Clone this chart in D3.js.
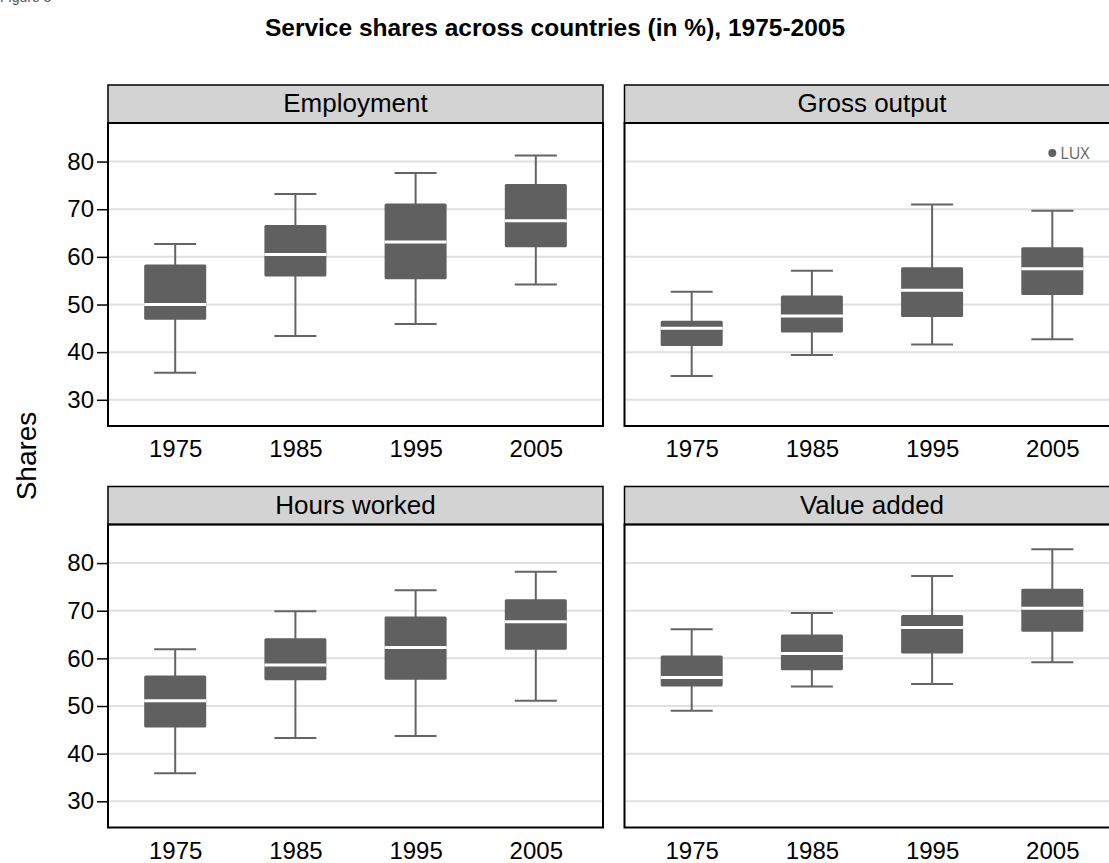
<!DOCTYPE html>
<html><head><meta charset="utf-8">
<script src="https://cdn.jsdelivr.net/npm/d3@7"></script>
<style>body{margin:0;background:#fff;}svg{display:block;font-family:"Liberation Sans",Arial,sans-serif;}</style>
</head><body>
<script>
const years = ["1975","1985","1995","2005"];
const panels = ["Employment","Gross output","Hours worked","Value added"];
const yTicks = [30,40,50,60,70,80];
// [lower whisker, Q1, median, Q3, upper whisker] per year
const employment  = [[35.7,46.8,50.0,58.4,62.7],[43.4,55.9,60.5,66.7,73.2],[45.9,55.3,63.1,71.2,77.6],[54.2,62.0,67.6,75.3,81.3]];
const grossOutput = [[35.0,41.3,45.0,46.6,52.7],[39.4,44.1,47.6,51.9,57.1],[41.6,47.4,53.0,57.8,71.0],[42.7,52.0,57.5,62.0,69.7]];
const hoursWorked = [[35.9,45.5,51.1,56.4,61.9],[43.3,55.4,58.6,64.2,69.9],[43.7,55.5,62.3,68.8,74.3],[51.1,61.8,67.7,72.4,78.2]];
const valueAdded  = [[49.0,54.1,56.0,60.6,66.1],[54.1,57.5,61.0,65.0,69.5],[54.6,61.0,66.5,69.1,77.3],[59.2,65.6,70.5,74.6,82.9]];
const seriesData = [employment, grossOutput, hoursWorked, valueAdded];
// outliers: [panel index, year index, value, label]
const outliers = [[1, 3, 81.8, "LUX"]];

const W = 1109, H = 863;
const svg = d3.select("body").append("svg").attr("width", W).attr("height", H);

svg.append("text").attr("x", 0).attr("y", 1.5).attr("font-size", 14).attr("fill", "#555").text("Figure 3");
svg.append("text").attr("x", 555).attr("y", 36).attr("text-anchor", "middle")
  .attr("font-size", 24.5).attr("font-weight", "bold").text("Service shares across countries (in %), 1975-2005");
svg.append("text").attr("transform", "translate(36,456) rotate(-90)").attr("text-anchor", "middle")
  .attr("font-size", 28).text("Shares");

const panelW = 495, headerH = 38, plotH = 303;
const lefts = [108, 624.5];
const tops = [85, 486.5];

panels.forEach((name, i) => {
  const col = i % 2, row = Math.floor(i / 2);
  const x0 = lefts[col], top = tops[row];
  const py0 = top + headerH;
  const g = svg.append("g");
  const x = d3.scalePoint().domain(years).range([x0, x0 + panelW]).padding(0.559);
  const y = d3.scaleLinear().domain([24.5, 88.1]).range([py0 + plotH, py0]);

  // grid
  g.selectAll(".grid").data(yTicks).join("line")
    .attr("x1", x0).attr("x2", x0 + panelW)
    .attr("y1", d => y(d)).attr("y2", d => y(d))
    .attr("stroke", "#e0e0e0").attr("stroke-width", 2);

  // y axis
  if (col === 0) {
    const ax = g.append("g").attr("transform", `translate(${x0},0)`)
      .call(d3.axisLeft(y).tickValues(yTicks).tickSize(11).tickPadding(3));
    ax.select(".domain").remove();
    ax.selectAll(".tick line").attr("stroke", "#000").attr("stroke-width", 1.5);
    ax.selectAll(".tick text").attr("font-size", 24).attr("fill", "#000")
      .attr("font-family", "Liberation Sans, Arial, sans-serif");
  }
  // x axis labels
  const axx = g.append("g").attr("transform", `translate(0,${py0 + plotH})`)
    .call(d3.axisBottom(x).tickSize(0).tickPadding(14));
  axx.select(".domain").remove();
  axx.selectAll(".tick text").attr("font-size", 24).attr("fill", "#000")
    .attr("font-family", "Liberation Sans, Arial, sans-serif");

  const data = seriesData[i];
  const boxW = 62, capW = 42;
  data.forEach((d, j) => {
    const cx = x(years[j]);
    const [lo, q1, med, q3, hi] = d;
    g.append("line").attr("x1", cx).attr("x2", cx).attr("y1", y(hi)).attr("y2", y(lo))
      .attr("stroke", "#646464").attr("stroke-width", 2);
    [lo, hi].forEach(v => g.append("line").attr("x1", cx - capW/2).attr("x2", cx + capW/2)
      .attr("y1", y(v)).attr("y2", y(v)).attr("stroke", "#646464").attr("stroke-width", 2));
    g.append("rect").attr("x", cx - boxW/2).attr("width", boxW)
      .attr("y", y(q3)).attr("height", y(q1) - y(q3)).attr("rx", 1.5)
      .attr("fill", "#606060");
    g.append("line").attr("x1", cx - boxW/2).attr("x2", cx + boxW/2)
      .attr("y1", y(med)).attr("y2", y(med)).attr("stroke", "#fff").attr("stroke-width", 3);
  });

  outliers.filter(o => o[0] === i).forEach(o => {
    const cx = x(years[o[1]]);
    g.append("circle").attr("cx", cx).attr("cy", y(o[2])).attr("r", 4).attr("fill", "#606060");
    g.append("text").attr("x", cx + 8).attr("y", y(o[2]) + 5.7).attr("font-size", 16)
      .attr("fill", "#666").attr("font-family", "Open Sans, DejaVu Sans, sans-serif").text(o[3]);
  });

  // header
  g.append("rect").attr("x", x0).attr("y", top).attr("width", panelW).attr("height", headerH)
    .attr("fill", "#d3d3d3").attr("stroke", "#000").attr("stroke-width", 1.5);
  g.append("text").attr("x", x0 + panelW/2).attr("y", top + 27).attr("text-anchor", "middle")
    .attr("font-size", 26).text(name);
  // plot border
  g.append("rect").attr("x", x0).attr("y", py0).attr("width", panelW).attr("height", plotH)
    .attr("fill", "none").attr("stroke", "#000").attr("stroke-width", 2);
});
</script>
</body></html>
